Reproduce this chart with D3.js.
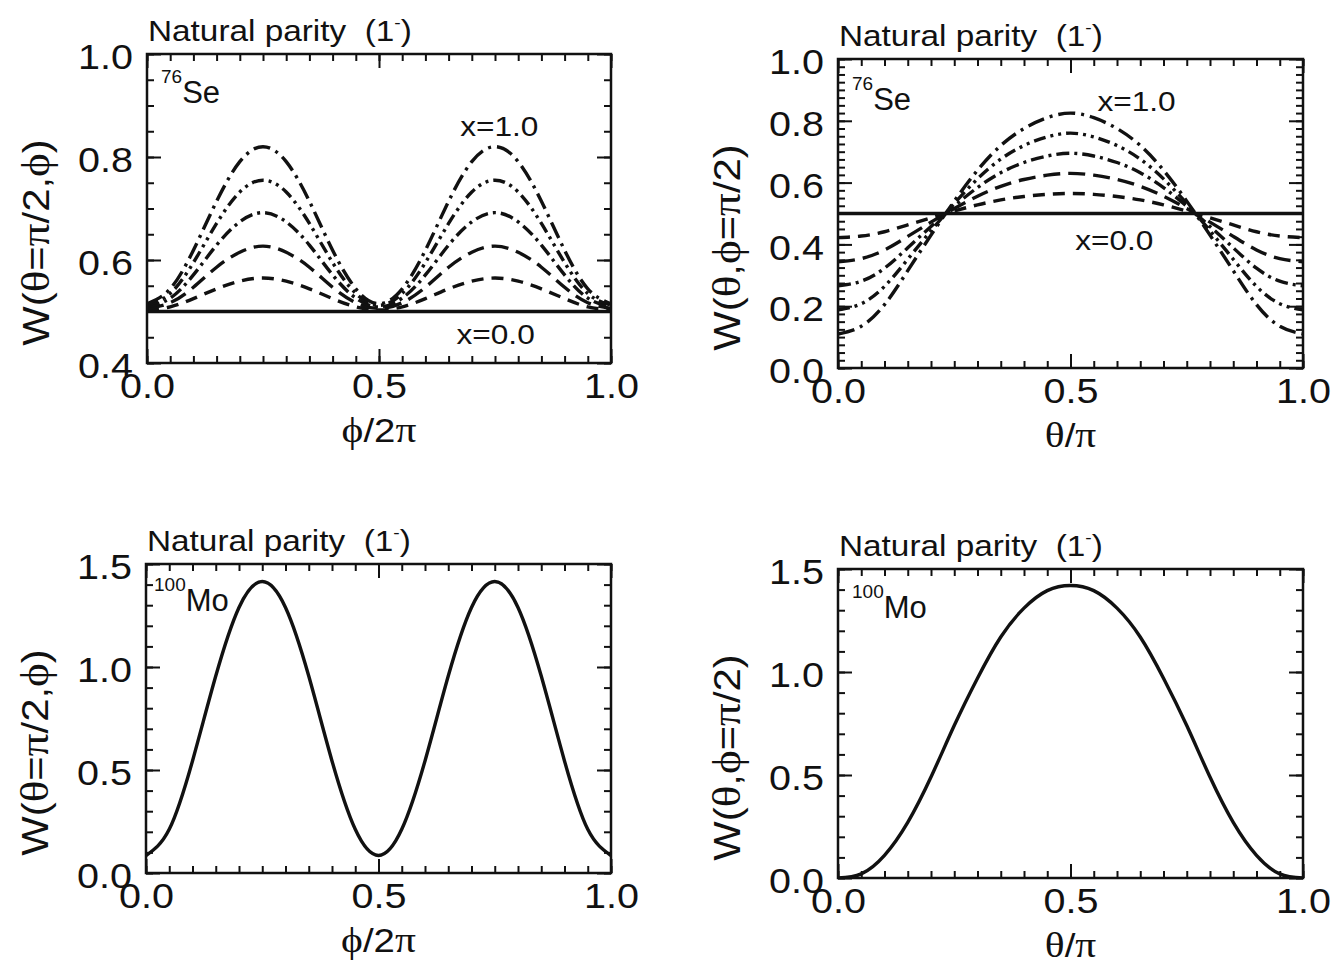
<!DOCTYPE html>
<html><head><meta charset="utf-8">
<script src="https://cdn.jsdelivr.net/npm/d3@7"></script>
<style>
body{margin:0;background:#fff}
svg{display:block}
text{font-family:"Liberation Sans",Arial,Helvetica,sans-serif;fill:#111}
</style>
</head><body>
<svg id="c" width="1338" height="976"></svg>
<script>
// ---------- DATA ----------
const phiGrid   = [0,0.05,0.1,0.15,0.2,0.25,0.3,0.35,0.4,0.45,0.5,0.55,0.6,0.65,0.7,0.75,0.8,0.85,0.9,0.95,1.0];
const thetaGrid = [0,0.05,0.1,0.15,0.2,0.25,0.3,0.35,0.4,0.45,0.5,0.55,0.6,0.65,0.7,0.75,0.8,0.85,0.9,0.95,1.0];
const xLabels   = ["x=0.0","x=0.2","x=0.4","x=0.6","x=0.8","x=1.0"];

// 76Se, W(theta=pi/2, phi)
const sePhiX00 = [0.5,0.5,0.5,0.5,0.5,0.5,0.5,0.5,0.5,0.5,0.5,0.5,0.5,0.5,0.5,0.5,0.5,0.5,0.5,0.5,0.5];
const sePhiX02 = [0.503,0.509,0.525,0.544,0.559,0.565,0.559,0.544,0.525,0.509,0.503,0.509,0.525,0.544,0.559,0.565,0.559,0.544,0.525,0.509,0.503];
const sePhiX04 = [0.506,0.517,0.547,0.586,0.615,0.627,0.615,0.586,0.547,0.517,0.506,0.517,0.547,0.586,0.615,0.627,0.615,0.586,0.547,0.517,0.506];
const sePhiX06 = [0.509,0.526,0.571,0.629,0.674,0.692,0.674,0.629,0.571,0.526,0.509,0.526,0.571,0.629,0.674,0.692,0.674,0.629,0.571,0.526,0.509];
const sePhiX08 = [0.512,0.535,0.595,0.671,0.732,0.755,0.732,0.671,0.595,0.535,0.512,0.535,0.595,0.671,0.732,0.755,0.732,0.671,0.595,0.535,0.512];
const sePhiX10 = [0.515,0.544,0.619,0.714,0.791,0.820,0.791,0.714,0.619,0.544,0.515,0.544,0.619,0.714,0.791,0.820,0.791,0.714,0.619,0.544,0.515];

// 76Se, W(theta, phi=pi/2)
const seThX00 = [0.5,0.5,0.5,0.5,0.5,0.5,0.5,0.5,0.5,0.5,0.5,0.5,0.5,0.5,0.5,0.5,0.5,0.5,0.5,0.5,0.5];
const seThX02 = [0.422,0.427,0.441,0.463,0.486,0.508,0.528,0.544,0.555,0.562,0.565,0.562,0.555,0.544,0.528,0.508,0.486,0.463,0.441,0.427,0.422];
const seThX04 = [0.344,0.354,0.382,0.426,0.472,0.516,0.556,0.588,0.610,0.624,0.630,0.624,0.610,0.588,0.556,0.516,0.472,0.426,0.382,0.354,0.344];
const seThX06 = [0.266,0.281,0.323,0.389,0.458,0.524,0.584,0.632,0.665,0.686,0.695,0.686,0.665,0.632,0.584,0.524,0.458,0.389,0.323,0.281,0.266];
const seThX08 = [0.188,0.208,0.264,0.352,0.444,0.532,0.612,0.676,0.720,0.748,0.760,0.748,0.720,0.676,0.612,0.532,0.444,0.352,0.264,0.208,0.188];
const seThX10 = [0.110,0.135,0.205,0.315,0.430,0.540,0.640,0.720,0.775,0.810,0.825,0.810,0.775,0.720,0.640,0.540,0.430,0.315,0.205,0.135,0.110];

// 100Mo
const moPhi = [0.085,0.212,0.544,0.956,1.289,1.415,1.289,0.956,0.544,0.212,0.085,0.212,0.544,0.956,1.289,1.415,1.289,0.956,0.544,0.212,0.085];
const moTh  = [0,0.02,0.11,0.27,0.49,0.74,0.97,1.17,1.31,1.395,1.42,1.395,1.31,1.17,0.97,0.74,0.49,0.27,0.11,0.02,0];

// tick labels
const xTickVals = [0,0.5,1.0];
const xTickText = ["0.0","0.5","1.0"];
const ySeTLVals = [0.4,0.6,0.8,1.0];
const ySeTRVals = [0.0,0.2,0.4,0.6,0.8,1.0];
const yMoVals   = [0.0,0.5,1.0,1.5];

// ---------- DRAW ----------
const svg = d3.select("#c");
const dashes = ["none","12,8","17,8","13,5,3,5","12,5,3,5,3,5","17,6,3,6"];
const SX = 1.13; // glyph width factor of the original lettering

function stretch(sel, s, extra){
  sel.each(function(){
    const t = d3.select(this);
    const x = +t.attr("x")||0, y = +t.attr("y")||0;
    t.attr("x",0).attr("y",0)
     .attr("transform",`translate(${x},${y})${extra||""} scale(${s},1)`);
  });
}

function greekLabel(sel, parts, size){
  parts.forEach(([t,gk])=>{
    sel.append("tspan").text(t)
      .style("font-family", gk ? "'Liberation Serif','Times New Roman',serif" : null)
      .attr("font-size", gk ? size*1.08 : size);
  });
}

function panel(cfg, idx){
  const [x0,y0,x1,y1] = cfg.box;
  const x = d3.scaleLinear().domain([0,1]).range([x0,x1]);
  const y = d3.scaleLinear().domain(cfg.ydom).range([y1,y0]);
  const g = svg.append("g");

  g.append("clipPath").attr("id","clip"+idx).append("rect")
    .attr("x",x0).attr("y",y0).attr("width",x1-x0).attr("height",y1-y0);

  const line = d3.line().x((d,i)=>x(cfg.grid[i])).y(d=>y(d)).curve(d3.curveNatural);
  const cg = g.append("g").attr("clip-path",`url(#clip${idx})`);
  cfg.series.forEach((s,i)=>{
    cg.append("path").attr("d",line(s)).attr("fill","none")
      .attr("stroke","#111").attr("stroke-width",3.4)
      .attr("stroke-dasharray", cfg.series.length>1 ? dashes[i] : "none");
  });

  const fixAxis = a => { a.select(".domain").remove(); a.selectAll("line").attr("stroke","#111").attr("stroke-width",2); };
  const xMinor = d3.range(0,1.0001,0.05);
  const yMinor = d3.range(cfg.ydom[0], cfg.ydom[1]+1e-6, cfg.yMinor);

  [[d3.axisBottom(x).tickValues(xMinor),`translate(0,${y1})`],
   [d3.axisTop(x).tickValues(xMinor),`translate(0,${y0})`],
   [d3.axisLeft(y).tickValues(yMinor),`translate(${x0},0)`],
   [d3.axisRight(y).tickValues(yMinor),`translate(${x1},0)`]].forEach(([ax,tr])=>{
    g.append("g").attr("transform",tr).call(ax.tickSizeInner(-7).tickSizeOuter(0).tickFormat("")).call(fixAxis);
  });
  const xb = g.append("g").attr("transform",`translate(0,${y1})`)
    .call(d3.axisBottom(x).tickValues(xTickVals).tickFormat((d,i)=>xTickText[i]).tickSizeInner(-14).tickSizeOuter(0).tickPadding(10))
    .call(fixAxis);
  g.append("g").attr("transform",`translate(0,${y0})`)
    .call(d3.axisTop(x).tickValues(xTickVals).tickFormat("").tickSizeInner(-14).tickSizeOuter(0)).call(fixAxis);
  const yl = g.append("g").attr("transform",`translate(${x0},0)`)
    .call(d3.axisLeft(y).tickValues(cfg.yMajor).tickFormat(d3.format(".1f")).tickSizeInner(-14).tickSizeOuter(0).tickPadding(14))
    .call(fixAxis);
  g.append("g").attr("transform",`translate(${x1},0)`)
    .call(d3.axisRight(y).tickValues(cfg.yMajor).tickFormat("").tickSizeInner(-14).tickSizeOuter(0)).call(fixAxis);
  [xb,yl].forEach(a=>{
    a.attr("font-family",null).attr("font-size",null);
    a.selectAll("text").attr("font-size",35).attr("fill","#111");
  });
  yl.selectAll("text").attr("dy","0.42em");
  stretch(xb.selectAll("text"), SX);
  stretch(yl.selectAll("text"), SX);

  g.append("rect").attr("x",x0).attr("y",y0).attr("width",x1-x0).attr("height",y1-y0)
    .attr("fill","none").attr("stroke","#111").attr("stroke-width",2.5);

  // title
  const t = g.append("text").attr("x",x0+1).attr("y",y0-13).attr("font-size",29.5);
  t.append("tspan").text("Natural parity\u00a0\u00a0(1");
  t.append("tspan").text("-").attr("font-size",17).attr("dy",-13);
  t.append("tspan").text(")").attr("font-size",29.5).attr("dy",13);
  stretch(t, SX);

  // nucleus label
  const n = g.append("text").attr("x",x0+cfg.nuc[2]).attr("y",y0+cfg.nuc[3]);
  n.append("tspan").text(cfg.nuc[0]).attr("font-size",19).attr("dy",-20);
  n.append("tspan").text(cfg.nuc[1]).attr("font-size",31).attr("dy",20);

  if(cfg.curveLabels){
    cfg.curveLabels.forEach(([txt,xv,yv])=>{
      const c = g.append("text").attr("x",x(xv)).attr("y",y(yv)).attr("font-size",28).text(txt);
      stretch(c, SX);
    });
  }

  const xt = g.append("text").attr("x",(x0+x1)/2).attr("y",y1+79).attr("text-anchor","middle");
  greekLabel(xt, cfg.xlabel, 34);
  stretch(xt, SX);
  const yt = g.append("text").attr("x",x0-98).attr("y",(y0+y1)/2+34).attr("text-anchor","middle");
  greekLabel(yt, cfg.ylabel, 37);
  stretch(yt, SX, " rotate(-90)");
}

const panels = [
  {box:[147,54,611,363], ydom:[0.4,1.0], yMajor:ySeTLVals, yMinor:0.05, grid:phiGrid,
   series:[sePhiX00,sePhiX02,sePhiX04,sePhiX06,sePhiX08,sePhiX10],
   nuc:["76","Se",14,49], curveLabels:[[xLabels[5],0.675,0.84],[xLabels[0],0.667,0.436]],
   xlabel:[["ϕ",true],["/2",false],["π",true]],
   ylabel:[["W(",false],["θ",true],["=",false],["π",true],["/2,",false],["ϕ",true],[")",false]]},
  {box:[838,59,1303,368], ydom:[0.0,1.0], yMajor:ySeTRVals, yMinor:0.025, grid:thetaGrid,
   series:[seThX00,seThX02,seThX04,seThX06,seThX08,seThX10],
   nuc:["76","Se",14,51], curveLabels:[[xLabels[5],0.558,0.832],[xLabels[0],0.51,0.383]],
   xlabel:[["θ",true],["/",false],["π",true]],
   ylabel:[["W(",false],["θ",true],[",",false],["ϕ",true],["=",false],["π",true],["/2)",false]]},
  {box:[146,564,611,873], ydom:[0.0,1.5], yMajor:yMoVals, yMinor:0.1, grid:phiGrid,
   series:[moPhi], nuc:["100","Mo",8,47],
   xlabel:[["ϕ",true],["/2",false],["π",true]],
   ylabel:[["W(",false],["θ",true],["=",false],["π",true],["/2,",false],["ϕ",true],[")",false]]},
  {box:[838,569,1303,878], ydom:[0.0,1.5], yMajor:yMoVals, yMinor:0.1, grid:thetaGrid,
   series:[moTh], nuc:["100","Mo",14,49],
   xlabel:[["θ",true],["/",false],["π",true]],
   ylabel:[["W(",false],["θ",true],[",",false],["ϕ",true],["=",false],["π",true],["/2)",false]]}
];
panels.forEach(panel);
</script>
</body></html>
